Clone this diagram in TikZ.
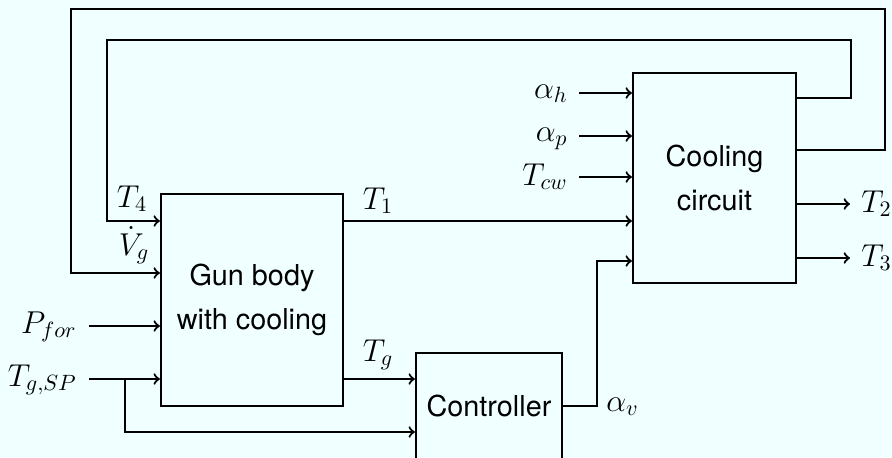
\RequirePackage{fix-cm}
\documentclass[tikz,border=0pt]{standalone}
\usepackage{fontspec}
\newfontfamily\helv{TeX Gyre Heros}
\usetikzlibrary{calc}
\definecolor{bg}{HTML}{F0FFFF}
\begin{document}
\begin{tikzpicture}[x=0.5pt,y=-0.5pt,
  box/.style={draw, line width=1.1pt, inner sep=0pt, align=center,
    font={\fontsize{14.4}{22}\selectfont\helv}},
  lbl/.style={inner sep=0pt, font={\fontsize{15.8}{18}\selectfont}},
  wire/.style={->, line width=1.1pt}]
\fill[bg] (0,0) rectangle (892,457);
\clip (0,0) rectangle (892,457);
% blocks
\node[box, minimum width=91pt, minimum height=106pt] (gun) at (252,300) {Gun body\\with cooling};
\node[box, minimum width=81.5pt, minimum height=105pt] (cool) at (714.5,178) {Cooling\\circuit};
\node[box, minimum width=73pt, minimum height=53pt] (ctrl) at (489,406) {Controller};
% coordinates
\coordinate (pf) at (89,326);
\coordinate (tsp) at (89,379);
\coordinate (br) at (125,379);
\coordinate (brd) at (125,432);
\coordinate (ah) at (579,93);
\coordinate (ap) at (579,136);
\coordinate (tcw) at (579,177);
\coordinate (y221) at (0,221);
\coordinate (y273) at (0,273);
\coordinate (y98) at (0,98);
\coordinate (y150) at (0,150);
\coordinate (y406) at (0,406);
\coordinate (y261) at (0,261);
\coordinate (y204) at (0,204);
\coordinate (y258) at (0,258);
\coordinate (t2e) at (850,204);
\coordinate (t3e) at (850,258);
\coordinate (av) at (597,406);
% feedback loops
\draw[wire] (cool.east |- y98) -- (851,98) -- (851,40) -- (107,40) -- (107,221) -- (gun.west |- y221);
\draw[wire] (cool.east |- y150) -- (885,150) -- (885,9) -- (71,9) -- (71,273) -- (gun.west |- y273);
% inputs to gun body
\draw[wire] (pf) -- (pf -| gun.west);
\draw[wire] (tsp) -- (tsp -| gun.west);
\draw[wire] (br) -- (brd) -- (brd -| ctrl.west);
% gun outputs
\draw[wire] (gun.east |- y221) -- (cool.west |- y221);
\draw[wire] (gun.east |- tsp) -- (ctrl.west |- tsp);
% controller output
\draw[wire] (ctrl.east |- y406) -- (av) -- (av |- y261) -- (cool.west |- y261);
% cooling inputs
\draw[wire] (ah) -- (ah -| cool.west);
\draw[wire] (ap) -- (ap -| cool.west);
\draw[wire] (tcw) -- (tcw -| cool.west);
% cooling outputs
\draw[wire] (cool.east |- y204) -- (t2e);
\draw[wire] (cool.east |- y258) -- (t3e);
% labels
\node[lbl, anchor=base] (lt4) at (132,207) {$T_4$};
\node[lbl, anchor=base] (lvg) at (134,255) {$\smash{\dot{V}_g}$};
\node[lbl, anchor=base] (lt1) at (378,209) {$T_1$};
\node[lbl, anchor=base] (ltg) at (378,361) {$T_g$};
\node[lbl, anchor=base east] (lpf) at (77,333) {$P_{for}$};
\node[lbl, anchor=base east] (ltsp) at (77,386) {$T_{g,SP}$};
\node[lbl, anchor=base east] (lah) at (568,98) {$\alpha_h$};
\node[lbl, anchor=base east] (lap) at (568,141) {$\alpha_p$};
\node[lbl, anchor=base east] (ltcw) at (568,185) {$T_{cw}$};
\node[lbl, anchor=base west] (lt2) at (861,212) {$T_2$};
\node[lbl, anchor=base west] (lt3) at (861,266) {$T_3$};
\node[lbl, anchor=base west] (lav) at (606,411) {$\alpha_v$};
\end{tikzpicture}
\end{document}
